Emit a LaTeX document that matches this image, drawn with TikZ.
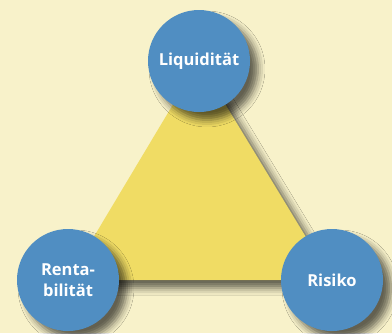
\documentclass[tikz,border=0pt]{standalone}
\usepackage{fontspec}
\usepackage{tikz}
\newfontfamily\labelfont{Open Sans}
\usetikzlibrary{backgrounds,shadows.blur}
\definecolor{paper}{RGB}{248,242,202}
\definecolor{tri}{RGB}{240,220,100}
\definecolor{ball}{RGB}{80,142,194}
\tikzstyle{corner}	=[circle, fill=ball, minimum size=102pt, inner sep=0pt, align=center, text=white, font=\labelfont\bfseries\fontsize{16.5}{21}\selectfont, blur shadow={shadow xshift=8pt, shadow yshift=-8pt, shadow blur radius=7pt, shadow opacity=60}]
\tikzstyle{face}	=[fill=tri, blur shadow={shadow xshift=8pt, shadow yshift=-8pt, shadow blur radius=7pt, shadow opacity=60}]

\begin{document}
\begin{tikzpicture}[x=1pt, y=-1pt]
   		\useasboundingbox (0,0) rectangle (392,333);
   		
   		%%%%% the three corners
   		\foreach \pos/\name/\lbl in {{(199,61)/liq/Liquidität}, {(68,280)/rent/{Renta-\\bilität}}, {(332,280)/ris/Risiko}}
   		\node[corner] (\name) at \pos {\lbl};
   		
   		%%%% triangle behind
   		\begin{pgfonlayer}{background}
   		\fill[paper] (0,0) rectangle (392,333);
   		\path[face] (liq.center) -- (rent.center) -- (ris.center) -- cycle;
   		\end{pgfonlayer}
\end{tikzpicture}
\end{document}
